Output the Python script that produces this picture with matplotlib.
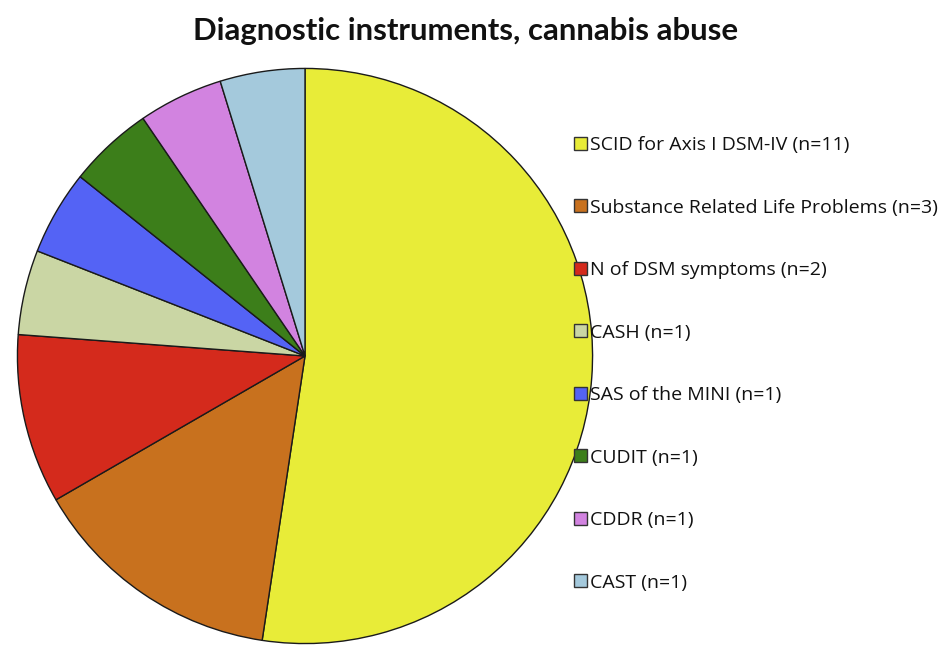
import matplotlib
matplotlib.use("Agg")
import matplotlib.pyplot as plt
from matplotlib.patches import Patch

labels = ["SCID for Axis I DSM-IV (n=11)",
          "Substance Related Life Problems (n=3)",
          "N of DSM symptoms (n=2)",
          "CASH (n=1)",
          "SAS of the MINI (n=1)",
          "CUDIT (n=1)",
          "CDDR (n=1)",
          "CAST (n=1)"]
counts = [11, 3, 2, 1, 1, 1, 1, 1]
colors = ["#E8EC38", "#C8711E", "#D42A1C", "#CAD6A4",
          "#5463F5", "#3C7E1A", "#D283E0", "#A4C9DC"]
title = "Diagnostic instruments, cannabis abuse"

plt.rcParams['font.family'] = ['Open Sans', 'DejaVu Sans']

W, H = 942, 646
fig = plt.figure(figsize=(W / 100, H / 100), dpi=100)

cx, cy, r = 305, 356, 289
ax = fig.add_axes([(cx - r) / W, (H - cy - r) / H, 2 * r / W, 2 * r / H])
ax.pie(counts, colors=colors, startangle=90, counterclock=False, radius=1,
       wedgeprops=dict(edgecolor="#1a1a1a", linewidth=1.0))
ax.set_xlim(-1.005, 1.005)
ax.set_ylim(-1.005, 1.005)
ax.set_aspect("equal")
ax.axis("off")

fig.text(466 / W, 1 - 31 / H, title, ha="center", va="center",
         fontsize=22.4, fontweight="bold", color="#111111",
         family=['Lato', 'DejaVu Sans'])

handles = [Patch(facecolor=c, edgecolor="#333333", linewidth=1.0) for c in colors]
leg = fig.legend(handles, labels, loc="upper left",
                 bbox_to_anchor=(574 / W, 1 - 136 / H), frameon=False,
                 fontsize=14.0, handlelength=0.67, handleheight=0.67,
                 handletextpad=0.15, labelspacing=2.29, borderaxespad=0,
                 borderpad=0)
for t in leg.get_texts():
    t.set_color("#111111")

fig.savefig("out.png", dpi=100)
